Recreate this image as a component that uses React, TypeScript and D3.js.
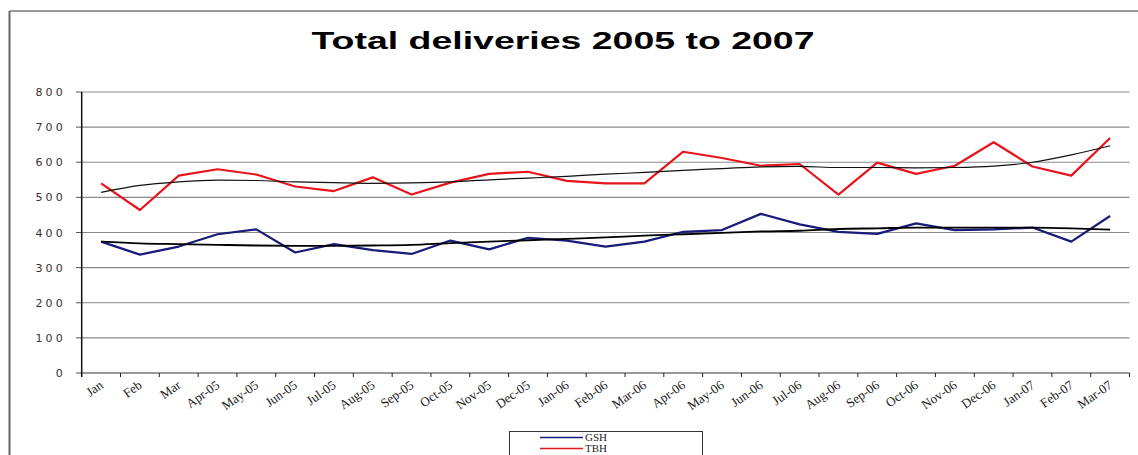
import React from "react";
import * as d3 from "d3";

const categories = ["Jan","Feb","Mar","Apr-05","May-05","Jun-05","Jul-05","Aug-05","Sep-05","Oct-05","Nov-05","Dec-05","Jan-06","Feb-06","Mar-06","Apr-06","May-06","Jun-06","Jul-06","Aug-06","Sep-06","Oct-06","Nov-06","Dec-06","Jan-07","Feb-07","Mar-07"];
const gsh = [374,337,360,395,409,343,367,350,339,377,352,385,377,360,374,402,407,453,423,402,396,426,407,409,414,374,447];
const tbh = [540,464,562,580,565,531,518,557,508,542,567,573,547,540,540,630,612,590,595,508,599,567,590,657,588,562,669];
const gshTrend = [374,369,367,365,363,362,362,363,365,370,374,378,382,386,391,395,399,403,405,410,412,414,414,414,414,412,408];
const tbhTrend = [514,534,544,549,548,544,542,540,541,544,550,555,560,566,571,577,582,587,588,585,585,584,585,589,600,621,647];
const yTicks = [0,100,200,300,400,500,600,700,800];
const title = "Total deliveries 2005 to 2007";
const legendItems = [{ name: "GSH", color: "#1a1a7a" }, { name: "TBH", color: "#e8141c" }];

export default function App() {
  const W = 1138, H = 455;
  const x0 = 81.7, x1 = 1129.5;
  const x = d3.scaleBand<string>().domain(categories).range([x0, x1]).padding(0);
  const y = d3.scaleLinear().domain([0, 800]).range([373, 92]);
  const cx = (i: number) => (x(categories[i]) as number) + x.bandwidth() / 2;
  const line = d3.line<number>().x((_, i) => cx(i)).y((d) => y(d));
  const trend = d3.line<number>().x((_, i) => cx(i)).y((d) => y(d)).curve(d3.curveMonotoneX);

  return (
    <svg width={W} height={H} style={{ position: "absolute", left: 0, top: 0, background: "#fff" }}>
      <rect x={0} y={0} width={W} height={H} fill="#fff" />
      <line x1={9.5} x2={W} y1={11} y2={11} stroke="#777" strokeWidth={1.5} />
      <line x1={9.5} x2={9.5} y1={11} y2={H} stroke="#666" strokeWidth={2} />
      <text x={563} y={48.5} textAnchor="middle" fontFamily="Liberation Sans, Arial, sans-serif" fontWeight="bold" fontSize={24} textLength={503} lengthAdjust="spacingAndGlyphs">{title}</text>
      {yTicks.map((t) => (
        <g key={t}>
          {t > 0 && <line x1={x0} x2={x1} y1={y(t)} y2={y(t)} stroke="#8a8a8a" strokeWidth={1.2} />}
          <line x1={76} x2={x0} y1={y(t)} y2={y(t)} stroke="#555" strokeWidth={1} />
          <text x={66} y={y(t) + 4} textAnchor="end" fontFamily="DejaVu Sans, sans-serif" fontSize={11} letterSpacing={3.2} fill="#333">{t}</text>
        </g>
      ))}
      <line x1={x0} x2={x1} y1={y(0)} y2={y(0)} stroke="#777" strokeWidth={1.5} />
      <line x1={x0} x2={x0} y1={y(800)} y2={y(0) + 4} stroke="#111" strokeWidth={1.5} />
      {categories.map((c, i) => (
        <line key={"t" + i} x1={(x(c) as number) + x.bandwidth()} x2={(x(c) as number) + x.bandwidth()} y1={y(0)} y2={y(0) + 4} stroke="#222" strokeWidth={1} />
      ))}
      {categories.map((c, i) => (
        <text key={"l" + i} transform={`translate(${cx(i) + 3},${y(0) + 14}) rotate(-35)`} textAnchor="end" fontFamily="Liberation Serif, Times New Roman, serif" fontSize={13} fill="#222">{c}</text>
      ))}
      <path d={line(tbh) as string} fill="none" stroke="#e8141c" strokeWidth={2.2} strokeLinejoin="round" />
      <path d={line(gsh) as string} fill="none" stroke="#1a1a7a" strokeWidth={2.2} strokeLinejoin="round" />
      <path d={trend(tbhTrend) as string} fill="none" stroke="#111" strokeWidth={1.2} />
      <path d={trend(gshTrend) as string} fill="none" stroke="#000" strokeWidth={1.8} />
      <rect x={509.5} y={431.5} width={193} height={24} fill="#fff" stroke="#333" strokeWidth={1} />
      {legendItems.map((it, i) => (
        <g key={it.name}>
          <line x1={540} x2={583} y1={437.5 + i * 11} y2={437.5 + i * 11} stroke={it.color} strokeWidth={1.5} />
          <text x={585} y={441 + i * 11} fontFamily="Liberation Serif, Times New Roman, serif" fontSize={11} fill="#222">{it.name}</text>
        </g>
      ))}
    </svg>
  );
}
